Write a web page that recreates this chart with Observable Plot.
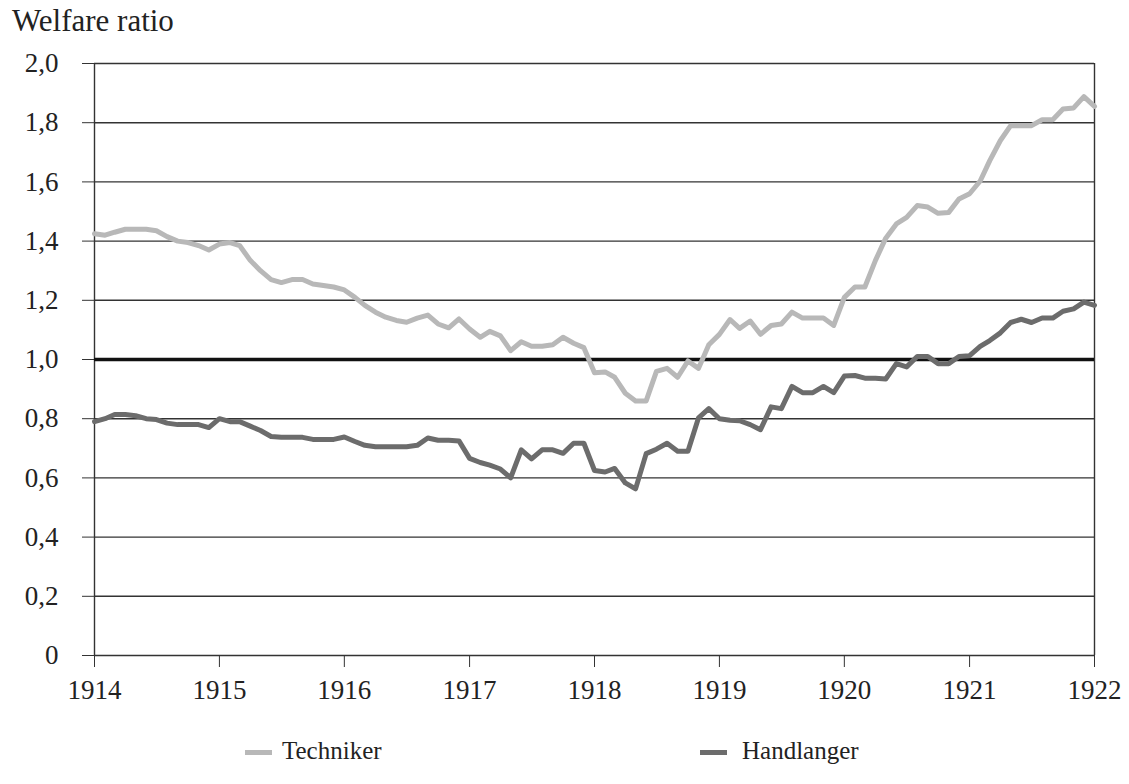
<!DOCTYPE html>
<html>
<head>
<meta charset="utf-8">
<script src="https://cdn.jsdelivr.net/npm/d3@7"></script>
<script src="https://cdn.jsdelivr.net/npm/@observablehq/plot@0.6"></script>
<style>
  html, body { margin: 0; padding: 0; background: #fff; }
  #wrap { position: relative; width: 1129px; height: 784px; font-family: "Liberation Serif", "DejaVu Serif", serif; color: #222; }
  #title { position: absolute; left: 12px; top: 5px; font-size: 31px; line-height: 1; }
  #chart { position: absolute; left: 0; top: 45px; }
  .leg { position: absolute; top: 737px; font-size: 25px; line-height: 28px; white-space: nowrap; }
  .sw { position: absolute; height: 5px; width: 27px; top: 750px; }
</style>
</head>
<body>
<div id="wrap">
  <div id="title">Welfare ratio</div>
  <div id="chart"></div>
  <div class="sw" style="left:245px;background:#b8b8b8"></div>
  <div class="leg" style="left:282px">Techniker</div>
  <div class="sw" style="left:700px;background:#6c6c6c"></div>
  <div class="leg" style="left:742px">Handlanger</div>
</div>
<script>
// Monthly series, January 1914 – January 1922
const startYear = 1914;
const seriesNames = ["Techniker", "Handlanger"];
const techniker = [
  1.425,1.42,1.43,1.44,1.44,1.44,1.435,1.415,1.40,1.395,1.385,1.37,
  1.39,1.395,1.385,1.335,1.30,1.27,1.26,1.27,1.27,1.255,1.25,1.245,
  1.235,1.21,1.183,1.16,1.143,1.132,1.126,1.14,1.15,1.12,1.107,1.137,
  1.103,1.075,1.095,1.08,1.03,1.06,1.045,1.045,1.05,1.075,1.055,1.04,
  0.955,0.958,0.94,0.886,0.86,0.86,0.96,0.97,0.94,0.995,0.97,1.05,
  1.085,1.135,1.105,1.13,1.085,1.115,1.12,1.16,1.14,1.14,1.14,1.115,
  1.21,1.245,1.245,1.335,1.41,1.458,1.48,1.52,1.515,1.494,1.497,1.542,
  1.56,1.603,1.672,1.74,1.79,1.79,1.79,1.81,1.81,1.846,1.85,1.888,
  1.855
];
const handlanger = [
  0.79,0.80,0.814,0.814,0.81,0.80,0.797,0.785,0.78,0.78,0.78,0.77,
  0.80,0.79,0.79,0.775,0.76,0.74,0.737,0.737,0.737,0.73,0.73,0.73,
  0.738,0.723,0.71,0.705,0.705,0.705,0.705,0.71,0.735,0.727,0.727,0.725,
  0.666,0.652,0.643,0.63,0.60,0.695,0.664,0.695,0.695,0.683,0.717,0.717,
  0.625,0.62,0.632,0.583,0.563,0.682,0.697,0.717,0.69,0.69,0.803,0.834,
  0.80,0.795,0.793,0.78,0.763,0.84,0.834,0.909,0.888,0.888,0.909,0.888,
  0.944,0.946,0.937,0.937,0.934,0.986,0.975,1.01,1.01,0.986,0.986,1.01,
  1.013,1.044,1.064,1.09,1.125,1.136,1.125,1.14,1.14,1.163,1.171,1.194,
  1.183
];
const yTicks = [0, 0.2, 0.4, 0.6, 0.8, 1.0, 1.2, 1.4, 1.6, 1.8, 2.0];
const xTickYears = [1914, 1915, 1916, 1917, 1918, 1919, 1920, 1921, 1922];
const referenceLevel = [1.0];

const monthDate = i => new Date(Date.UTC(startYear, i, 1));
const rows = [
  ...techniker.map((v, i) => ({series: "Techniker", date: monthDate(i), value: v})),
  ...handlanger.map((v, i) => ({series: "Handlanger", date: monthDate(i), value: v}))
];
const yearDates = xTickYears.map(y => new Date(Date.UTC(y, 0, 1)));
const fmtY = d => d === 0 ? "0" : d.toFixed(1).replace(".", ",");

const chart = Plot.plot({
  width: 1129,
  height: 665,
  marginLeft: 94,
  marginRight: 35,
  marginTop: 18,
  marginBottom: 55,
  style: {fontFamily: "'Liberation Serif', 'DejaVu Serif', serif", fontSize: "27px", color: "#222", background: "#fff"},
  x: {type: "utc", domain: [yearDates[0], yearDates[yearDates.length - 1]]},
  y: {domain: [0, 2]},
  color: {domain: seriesNames, range: ["#b8b8b8", "#6c6c6c"]},
  marks: [
    Plot.ruleY(yTicks, {stroke: "#333", strokeWidth: 1.4}),
    Plot.ruleX([yearDates[0], yearDates[yearDates.length - 1]], {stroke: "#333", strokeWidth: 1.4}),
    Plot.ruleY(referenceLevel, {stroke: "#111", strokeWidth: 3.5}),
    Plot.lineY(rows, {x: "date", y: "value", z: "series", stroke: "series", strokeWidth: 5, strokeLinejoin: "round"}),
    Plot.axisY({ticks: yTicks, tickSize: 12, tickPadding: 24, tickFormat: fmtY, label: null, stroke: "#333"}),
    Plot.axisX({ticks: yearDates, tickSize: 12, tickPadding: 12, tickFormat: d => String(d.getUTCFullYear()), label: null, stroke: "#333"})
  ]
});
document.getElementById("chart").appendChild(chart);
</script>
</body>
</html>
